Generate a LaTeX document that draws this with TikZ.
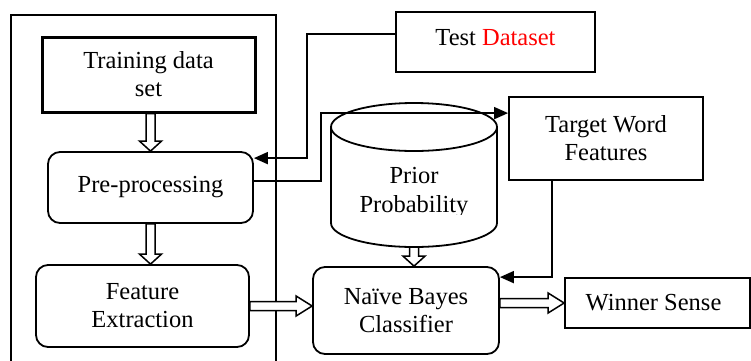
\documentclass[tikz,border=0pt]{standalone}
\usepackage{fontspec}
\setmainfont{Liberation Serif}
\usetikzlibrary{calc,arrows.meta}
\tikzset{
  box/.style={draw, line width=1.8pt, minimum width=#1, inner sep=0pt, align=center, font=\fontsize{24.5}{28}\selectfont},
  box/.default=100pt,
  rbox/.style={box=#1, rounded corners=12pt},
  rbox/.default=100pt,
  conn/.style={line width=1.8pt},
  tip/.style={-{Triangle[length=14pt,width=12pt]}},
  hollow/.style={draw, line width=1.5pt, fill=white, line join=miter},
  frame/.style={line width=1.6pt},
  lbl/.style={align=center, inner sep=0pt, font=\fontsize{24.5}{29}\selectfont}
}
\newcommand\harrowdown[2]{%
  \draw[hollow] let \p1=(#1), \p2=(#2) in
    (\x1-4.5pt,\y1) -- (\x1-4.5pt,\y2+10pt) -- (\x1-11pt,\y2+10pt) -- (\x1,\y2)
    -- (\x1+11pt,\y2+10pt) -- (\x1+4.5pt,\y2+10pt) -- (\x1+4.5pt,\y1) -- cycle;}
\newcommand\harrowright[2]{%
  \draw[hollow] let \p1=(#1), \p2=(#2) in
    (\x1,\y1+4.5pt) -- (\x2-16pt,\y1+4.5pt) -- (\x2-16pt,\y1+10pt) -- (\x2,\y1)
    -- (\x2-16pt,\y1-10pt) -- (\x2-16pt,\y1-4.5pt) -- (\x1,\y1-4.5pt) -- cycle;}
\begin{document}
\begin{tikzpicture}[x=1pt,y=-1pt]
\useasboundingbox (0,0) rectangle (751,360);
% outer frame
\draw[frame] (11,362) -- (11,15) -- (276,15) -- (276,362);
% boxes
\node[box=213pt, minimum height=75pt, line width=3pt] (train) at (148.5,74.5) {Training data\\set};
\node[rbox=205pt, minimum height=71pt] (pre) at (150.5,187.5) {Pre-processing};
\node[rbox=213pt, minimum height=82pt] (feat) at (142.5,306) {Feature\\Extraction};
\node[rbox=186pt, minimum height=87pt] (nb) at (406,310.5) {Na\"ive Bayes\\Classifier};
\node[box=185pt, minimum height=50pt] (win) at (657.5,303) {Winner Sense\hspace*{8pt}};
\node[box=199pt, minimum height=60pt, text depth=10pt] (test) at (495.5,42) {Test \textcolor[rgb]{1,0,0}{Dataset}};
\node[box=194pt, minimum height=83pt] (tgt) at (606,138.5) {Target Word\\Features};
% cylinder
\coordinate (cyltop) at (414,127);
\coordinate (cylbot) at (414,247);
\draw[line width=1.8pt] (331,127) -- (331,223) arc[start angle=180, end angle=360, x radius=83, y radius=-24] -- (497,127);
\draw[line width=1.8pt] (cyltop) ellipse[x radius=83, y radius=24];
\begin{scope}
  \clip (331,100) rectangle (497,214);
  \node[lbl] (cyl) at (414,192.5) {Prior\\Probability};
\end{scope}
% hollow arrows
\harrowdown{pre.north |- train.south}{pre.north}
\harrowdown{pre.south}{pre.south |- feat.north}
\harrowright{feat.east}{nb.west |- feat.east}
\harrowdown{cylbot}{cylbot |- nb.north}
\harrowright{nb.east |- win.west}{win.west}
% connectors
\draw[conn,tip] ($(test.west)+(0,-8)$) -| ($(pre.north east)+(53,7)$) -- ($(pre.north east)+(0,7)$);
\draw[conn,tip] ($(pre.east)+(0,-6.5)$) -- ++(67,0) |- ($(tgt.north west)+(0,17)$);
\draw[conn,tip] ($(tgt.south west)+(44,0)$) |- ($(nb.north east)+(0,11)$);
\end{tikzpicture}
\end{document}
